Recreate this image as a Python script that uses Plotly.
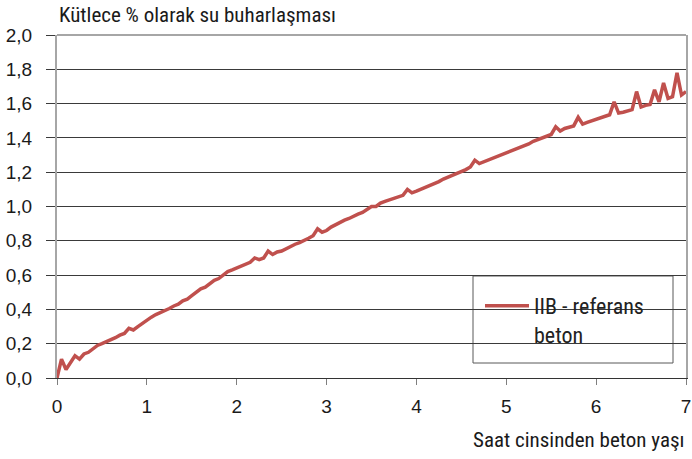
import plotly.graph_objects as go

# Time (hours) and mass-loss (%)
hours = [round(i * 0.05, 2) for i in range(141)]
evaporation = [
    0.00, 0.11, 0.05, 0.09, 0.13, 0.11, 0.14, 0.15, 0.17, 0.19,
    0.20, 0.21, 0.22, 0.235, 0.25, 0.26, 0.29, 0.28, 0.30, 0.32,
    0.34, 0.355, 0.37, 0.38, 0.39, 0.405, 0.42, 0.43, 0.45, 0.46,
    0.48, 0.50, 0.52, 0.53, 0.55, 0.57, 0.58, 0.60, 0.62, 0.63,
    0.64, 0.65, 0.66, 0.675, 0.70, 0.69, 0.70, 0.74, 0.72, 0.735,
    0.74, 0.755, 0.77, 0.78, 0.79, 0.80, 0.815, 0.83, 0.87, 0.85,
    0.86, 0.88, 0.895, 0.905, 0.92, 0.93, 0.945, 0.955, 0.965, 0.98,
    1.00, 1.00, 1.02, 1.03, 1.04, 1.045, 1.055, 1.065, 1.10, 1.08,
    1.09, 1.10, 1.11, 1.12, 1.13, 1.145, 1.16, 1.17, 1.18, 1.19,
    1.20, 1.215, 1.23, 1.27, 1.25, 1.26, 1.27, 1.28, 1.29, 1.30,
    1.31, 1.32, 1.33, 1.34, 1.35, 1.365, 1.38, 1.39, 1.40, 1.41,
    1.42, 1.465, 1.44, 1.455, 1.465, 1.47, 1.52, 1.48, 1.49, 1.50,
    1.51, 1.52, 1.53, 1.535, 1.61, 1.545, 1.55, 1.56, 1.565, 1.67,
    1.58, 1.59, 1.595, 1.68, 1.61, 1.72, 1.63, 1.64, 1.78, 1.65,
    1.67,
]
series_name = "IIB - referans<br>beton"
y_title = "Kütlece % olarak su buharlaşması"
x_title = "Saat cinsinden beton yaşı"
x_ticks = [0, 1, 2, 3, 4, 5, 6, 7]
y_ticks = [0.0, 0.2, 0.4, 0.6, 0.8, 1.0, 1.2, 1.4, 1.6, 1.8, 2.0]

COND = "Roboto Condensed, DejaVu Sans Condensed, sans-serif"
TICKF = "Liberation Sans, Arial, sans-serif"
RED = "#c0504d"

fig = go.Figure()
fig.add_trace(go.Scatter(
    x=hours, y=evaporation, mode="lines", name=series_name,
    line=dict(color=RED, width=3.5), showlegend=True,
))

fig.update_layout(
    width=692, height=459,
    margin=dict(l=57, r=6, t=35, b=81),
    paper_bgcolor="white", plot_bgcolor="white",
    separators=",.",
    showlegend=True,
    legend=dict(
        x=(480 - 57) / 629, y=(378 - 285) / 343, xanchor="left", yanchor="top",
        bgcolor="rgba(0,0,0,0)", borderwidth=0, valign="top",
        font=dict(family=COND, size=22, color="#222222"),
        itemwidth=44,
    ),
    xaxis=dict(
        range=[0, 7], tickvals=x_ticks, showgrid=False, zeroline=False,
        automargin=False,
        showline=True, linecolor="#333333", linewidth=1,
        ticks="outside", ticklen=6, tickcolor="#7f7f7f", tickwidth=1,
        ticklabelstandoff=5,
        tickfont=dict(family=TICKF, size=19, color="#1a1a1a"),
    ),
    yaxis=dict(
        range=[0, 2], tickvals=y_ticks, tickformat=".1f",
        automargin=False,
        showgrid=True, gridcolor="#3a3a3a", gridwidth=1, zeroline=False,
        showline=True, linecolor="#a6a6a6", linewidth=2, mirror=True,
        ticks="outside", ticklen=9, tickcolor="#3a3a3a", tickwidth=1,
        ticklabelstandoff=10,
        tickfont=dict(family=TICKF, size=19, color="#1a1a1a"),
    ),
    shapes=[
        dict(type="line", xref="paper", yref="paper", x0=0, x1=1, y0=1, y1=1,
             line=dict(color="#a6a6a6", width=2), layer="above"),
        dict(type="rect", xref="paper", yref="paper",
             x0=(473 - 57) / 629, x1=(673 - 57) / 629,
             y0=(378 - 363) / 343, y1=(378 - 276) / 343,
             line=dict(color="#595959", width=1), fillcolor="white", layer="below"),
    ],
    annotations=[
        dict(text=y_title, xref="paper", yref="paper", x=0, y=1, yshift=20,
             xanchor="left", yanchor="middle", showarrow=False,
             font=dict(family=COND, size=21, color="#1a1a1a")),
        dict(text=x_title, xref="paper", yref="paper", x=1, y=0, yshift=-62,
             xanchor="right", yanchor="middle", showarrow=False,
             font=dict(family=COND, size=21, color="#1a1a1a")),
    ],
)

fig.write_html("out.html", config={"displayModeBar": False},
               post_script="document.body.style.margin='0';")
